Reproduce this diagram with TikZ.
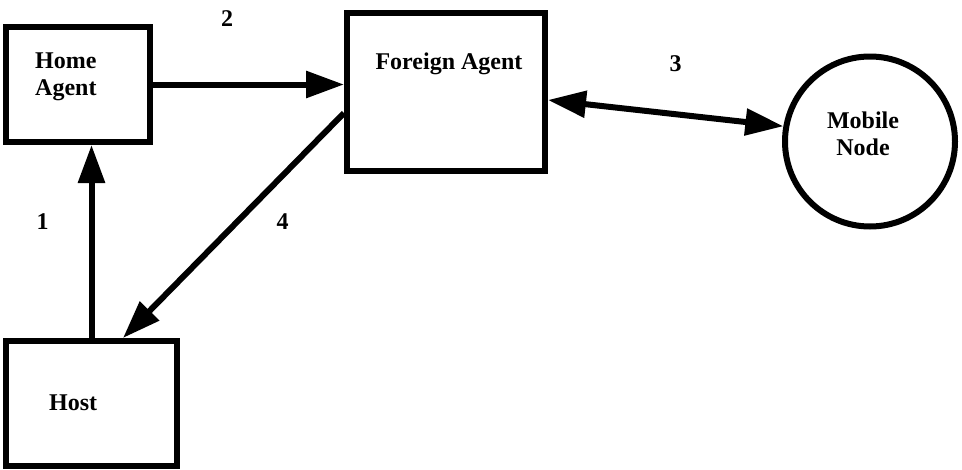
\documentclass[tikz,border=0pt]{standalone}
\usepackage{fontspec}
\setmainfont{Liberation Serif}
\usetikzlibrary{arrows.meta,calc}
\begin{document}
\begin{tikzpicture}[x=1pt,y=-1pt,
  box/.style={draw,line width=6pt,rectangle,inner sep=0pt},
  lbl/.style={inner sep=0pt,font=\fontsize{24}{27}\selectfont\bfseries},
  conn/.style={line width=6pt,-{Triangle[length=38pt,width=26pt]}},
  bconn/.style={line width=6pt,{Triangle[length=38pt,width=26pt]}-{Triangle[length=38pt,width=26pt]}}
  ]
\useasboundingbox[fill=white] (0,0) rectangle (962,469);
\node[box,minimum width=144pt,minimum height=115pt] (ha) at (78,84.5) {};
\node[box,minimum width=198pt,minimum height=158pt] (fa) at (446,92) {};
\node[box,minimum width=171pt,minimum height=125pt] (host) at (91.5,403.5) {};
\node[draw,circle,line width=6pt,minimum size=170pt,inner sep=0pt] (mn) at (870,141.5) {};

\node[lbl,align=left,anchor=north west] (hat) at (35,53) {Home\\Agent};
\node[lbl,anchor=north] (fat) at (449,53) {Foreign Agent};
\node[lbl,anchor=north west] (ht) at (49,395) {Host};
\node[lbl,align=center,anchor=north] (mnt) at (863,112) {Mobile\\Node};

\node[lbl,anchor=north] (n1) at (42.5,213) {1};
\node[lbl,anchor=north] (n2) at (227,10) {2};
\node[lbl,anchor=north] (n3) at (675.5,55) {3};
\node[lbl,anchor=north] (n4) at (282.5,213) {4};

\coordinate (s3) at ($(fa.east)+(0,8)$);
\coordinate (s4) at ($(fa.west)+(0,21)$);
\coordinate (e4) at ($(host.north)+(31.5,0)$);

\draw[conn] (host.north) -- (host.north |- ha.south);
\draw[conn] (ha.east) -- (ha.east -| fa.west);
\draw[bconn] (s3) -- (mn.170);
\draw[conn] (s4) -- (e4);
\end{tikzpicture}
\end{document}
